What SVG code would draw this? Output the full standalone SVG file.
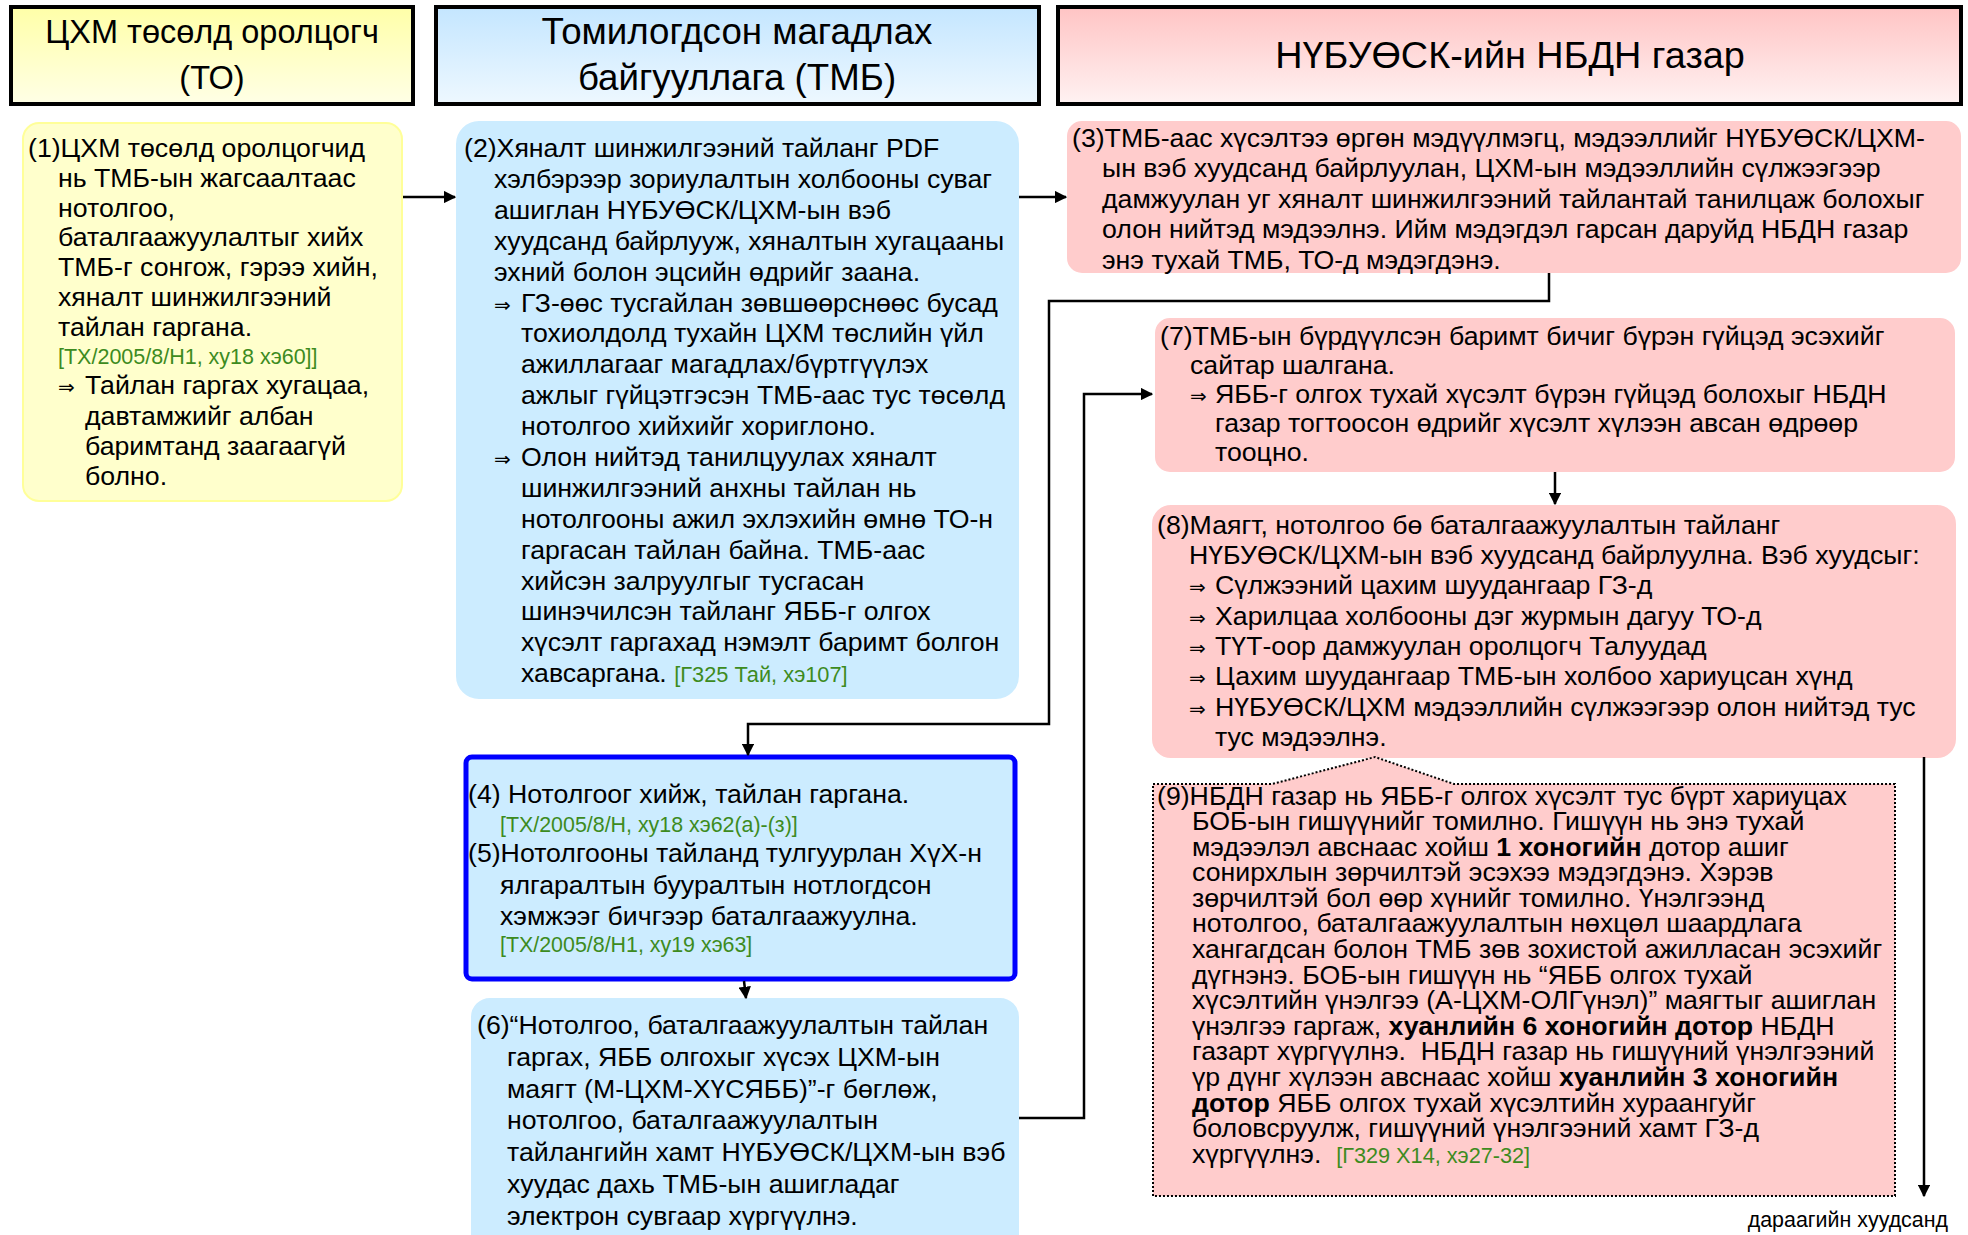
<svg xmlns="http://www.w3.org/2000/svg" width="1968" height="1235" viewBox="0 0 1968 1235">
<style>
.t{font-family:"Liberation Sans",Arial,"DejaVu Sans",sans-serif;font-size:26.7px;fill:#000}
.g{fill:#3D8B1E}
.b{font-weight:bold}
.ar{font-family:"DejaVu Sans",sans-serif;font-size:20px}
.hd{font-family:"Liberation Sans",Arial,sans-serif;fill:#000;text-anchor:middle}
.hb{stroke:#000;stroke-width:4}
.yel{fill:#FFFFCC;stroke:#FFFF99;stroke-width:2}
.blu{fill:#CCECFF;stroke:#CCECFF;stroke-width:2}
.pnk{fill:#FFCCCC;stroke:#FFCCCC;stroke-width:2}
.c{fill:none;stroke:#000;stroke-width:2.5}
</style>
<defs>
<linearGradient id="gy" x1="0" y1="0" x2="0" y2="1"><stop offset="0" stop-color="#FFFFA8"/><stop offset="1" stop-color="#FFFFE6"/></linearGradient>
<linearGradient id="gb" x1="0" y1="0" x2="0" y2="1"><stop offset="0" stop-color="#C4E6FF"/><stop offset="1" stop-color="#EEF8FF"/></linearGradient>
<linearGradient id="gp" x1="0" y1="0" x2="0" y2="1"><stop offset="0" stop-color="#FFC4C4"/><stop offset="1" stop-color="#FFF2F2"/></linearGradient>
<marker id="ar" viewBox="0 0 10 10" refX="9" refY="5" markerWidth="5" markerHeight="5" orient="auto" markerUnits="strokeWidth"><path d="M0,0 L10,5 L0,10 z" fill="#000"/></marker>
</defs>
<rect width="1968" height="1235" fill="#fff"/>

<g id="hdr-to">
<rect class="hb" x="11" y="7" width="402" height="97" fill="url(#gy)"/>
<text class="hd" font-size="32.5" x="212" y="43">ЦХМ төсөлд оролцогч</text>
<text class="hd" font-size="32.5" x="212" y="89">(ТО)</text>
</g>
<g id="hdr-tmb">
<rect class="hb" x="436" y="7" width="603" height="97" fill="url(#gb)"/>
<text class="hd" font-size="36.7" x="737" y="44">Томилогдсон магадлах</text>
<text class="hd" font-size="36.7" x="737" y="90">байгууллага (ТМБ)</text>
</g>
<g id="hdr-nbdn">
<rect class="hb" x="1058" y="7" width="903" height="97" fill="url(#gp)"/>
<text class="hd" font-size="37.8" x="1510" y="68">НҮБУӨСК-ийн НБДН газар</text>
</g>

<g id="n1">
<rect class="yel" x="23" y="123" width="379" height="378" rx="16"/>
<text class="t" font-size="26.6"><tspan x="28" y="157">(1)ЦХМ төсөлд оролцогчид</tspan><tspan x="58" y="187">нь ТМБ-ын жагсаалтаас</tspan><tspan x="58" y="217">нотолгоо,</tspan><tspan x="58" y="246">баталгаажуулалтыг хийх</tspan><tspan x="58" y="276">ТМБ-г сонгож, гэрээ хийн,</tspan><tspan x="58" y="306">хяналт шинжилгээний</tspan><tspan x="58" y="336">тайлан гаргана.</tspan><tspan x="58" y="364" class="g" font-size="21.5">[ТХ/2005/8/Н1, ху18 хэ60]]</tspan><tspan x="58" y="394" class="ar">⇒</tspan><tspan x="85" y="394">Тайлан гаргах хугацаа,</tspan><tspan x="85" y="425">давтамжийг албан</tspan><tspan x="85" y="455">баримтанд заагаагүй</tspan><tspan x="85" y="485">болно.</tspan></text>
</g>

<g id="n2">
<rect class="blu" x="457" y="122" width="561" height="576" rx="22"/>
<text class="t"><tspan x="464" y="157">(2)Хяналт шинжилгээний тайланг PDF</tspan><tspan x="494" y="188">хэлбэрээр зориулалтын холбооны суваг</tspan><tspan x="494" y="219">ашиглан НҮБУӨСК/ЦХМ-ын вэб</tspan><tspan x="494" y="250">хуудсанд байрлууж, хяналтын хугацааны</tspan><tspan x="494" y="281">эхний болон эцсийн өдрийг заана.</tspan><tspan x="494" y="312" class="ar">⇒</tspan><tspan x="521" y="312">ГЗ-өөс тусгайлан зөвшөөрснөөс бусад</tspan><tspan x="521" y="342">тохиолдолд тухайн ЦХМ төслийн үйл</tspan><tspan x="521" y="373">ажиллагааг магадлах/бүртгүүлэх</tspan><tspan x="521" y="404">ажлыг гүйцэтгэсэн ТМБ-аас тус төсөлд</tspan><tspan x="521" y="435">нотолгоо хийхийг хориглоно.</tspan><tspan x="494" y="466" class="ar">⇒</tspan><tspan x="521" y="466">Олон нийтэд танилцуулах хяналт</tspan><tspan x="521" y="497">шинжилгээний анхны тайлан нь</tspan><tspan x="521" y="528">нотолгооны ажил эхлэхийн өмнө ТО-н</tspan><tspan x="521" y="559">гаргасан тайлан байна. ТМБ-аас</tspan><tspan x="521" y="590">хийсэн залруулгыг тусгасан</tspan><tspan x="521" y="620">шинэчилсэн тайланг ЯББ-г олгох</tspan><tspan x="521" y="651">хүсэлт гаргахад нэмэлт баримт болгон</tspan><tspan x="521" y="682">хавсаргана. </tspan><tspan class="g" font-size="21.8">[Г325 Тай, хэ107]</tspan></text>
</g>

<g id="n3">
<rect class="pnk" x="1068" y="122" width="892" height="150" rx="14"/>
<text class="t" font-size="26.8"><tspan x="1072" y="147">(3)ТМБ-аас хүсэлтээ өргөн мэдүүлмэгц, мэдээллийг НҮБУӨСК/ЦХМ-</tspan><tspan x="1102" y="177">ын вэб хуудсанд байрлуулан, ЦХМ-ын мэдээллийн сүлжээгээр</tspan><tspan x="1102" y="208">дамжуулан уг хяналт шинжилгээний тайлантай танилцаж болохыг</tspan><tspan x="1102" y="238">олон нийтэд мэдээлнэ. Ийм мэдэгдэл гарсан даруйд НБДН газар</tspan><tspan x="1102" y="269">энэ тухай ТМБ, ТО-д мэдэгдэнэ.</tspan></text>
</g>

<g id="n7">
<rect class="pnk" x="1156" y="319" width="798" height="152" rx="14"/>
<text class="t" font-size="26.3"><tspan x="1160" y="345">(7)ТМБ-ын бүрдүүлсэн баримт бичиг бүрэн гүйцэд эсэхийг</tspan><tspan x="1190" y="374">сайтар шалгана.</tspan><tspan x="1190" y="403" class="ar" font-size="19">⇒</tspan><tspan x="1215" y="403">ЯББ-г олгох тухай хүсэлт бүрэн гүйцэд болохыг НБДН</tspan><tspan x="1215" y="432">газар тогтоосон өдрийг хүсэлт хүлээн авсан өдрөөр</tspan><tspan x="1215" y="461">тооцно.</tspan></text>
</g>

<g id="n8">
<rect class="pnk" x="1153" y="506" width="802" height="251" rx="18"/>
<text class="t" font-size="26"><tspan x="1157" y="534">(8)Маягт, нотолгоо бө баталгаажуулалтын тайланг</tspan><tspan x="1189" y="564">НҮБУӨСК/ЦХМ-ын вэб хуудсанд байрлуулна. Вэб хуудсыг:</tspan><tspan x="1189" y="594" class="ar" font-size="19">⇒</tspan><tspan x="1215" y="594">Сүлжээний цахим шуудангаар ГЗ-д</tspan><tspan x="1189" y="625" class="ar" font-size="19">⇒</tspan><tspan x="1215" y="625">Харилцаа холбооны дэг журмын дагуу ТО-д</tspan><tspan x="1189" y="655" class="ar" font-size="19">⇒</tspan><tspan x="1215" y="655">ТҮТ-оор дамжуулан оролцогч Талуудад</tspan><tspan x="1189" y="685" class="ar" font-size="19">⇒</tspan><tspan x="1215" y="685">Цахим шуудангаар ТМБ-ын холбоо хариуцсан хүнд</tspan><tspan x="1189" y="716" class="ar" font-size="19">⇒</tspan><tspan x="1215" y="716">НҮБУӨСК/ЦХМ мэдээллийн сүлжээгээр олон нийтэд тус</tspan><tspan x="1215" y="746">тус мэдээлнэ.</tspan></text>
</g>

<g id="n9">
<path d="M1153,784 L1272,784 L1375,757 L1454,784 L1895,784 L1895,1196 L1153,1196 Z" fill="#FFCCCC" stroke="#000" stroke-width="2" stroke-dasharray="2,2"/>
<text class="t" font-size="23.7"><tspan x="1157" y="805">(9)НБДН газар нь ЯББ-г олгох хүсэлт тус бүрт хариуцах</tspan><tspan x="1192" y="830">БОБ-ын гишүүнийг томилно. Гишүүн нь энэ тухай</tspan><tspan x="1192" y="856">мэдээлэл авснаас хойш <tspan class="b">1 хоногийн</tspan> дотор ашиг</tspan><tspan x="1192" y="881">сонирхлын зөрчилтэй эсэхээ мэдэгдэнэ. Хэрэв</tspan><tspan x="1192" y="907">зөрчилтэй бол өөр хүнийг томилно. Үнэлгээнд</tspan><tspan x="1192" y="932">нотолгоо, баталгаажуулалтын нөхцөл шаардлага</tspan><tspan x="1192" y="958">хангагдсан болон ТМБ зөв зохистой ажилласан эсэхийг</tspan><tspan x="1192" y="984">дүгнэнэ. БОБ-ын гишүүн нь “ЯББ олгох тухай</tspan><tspan x="1192" y="1009">хүсэлтийн үнэлгээ (А-ЦХМ-ОЛГүнэл)” маягтыг ашиглан</tspan><tspan x="1192" y="1035">үнэлгээ гаргаж, <tspan class="b">хуанлийн 6 хоногийн дотор</tspan> НБДН</tspan><tspan x="1192" y="1060">газарт хүргүүлнэ.&#160; НБДН газар нь гишүүний үнэлгээний</tspan><tspan x="1192" y="1086">үр дүнг хүлээн авснаас хойш <tspan class="b">хуанлийн 3 хоногийн</tspan></tspan><tspan x="1192" y="1112"><tspan class="b">дотор</tspan> ЯББ олгох тухай хүсэлтийн хураангуйг</tspan><tspan x="1192" y="1137">боловсруулж, гишүүний үнэлгээний хамт ГЗ-д</tspan><tspan x="1192" y="1163">хүргүүлнэ.&#160; <tspan class="g" font-size="21.7">[Г329 Х14, хэ27-32]</tspan></tspan></text>
</g>

<g id="n45">
<rect x="466" y="757" width="549" height="222" rx="6" fill="#CCECFF" stroke="#0000FF" stroke-width="5"/>
<text class="t" font-size="26.9"><tspan x="468" y="803">(4) Нотолгоог хийж, тайлан гаргана.</tspan><tspan x="500" y="832" class="g" font-size="21.4">[ТХ/2005/8/Н, ху18 хэ62(а)-(з)]</tspan><tspan x="468" y="862">(5)Нотолгооны тайланд тулгуурлан ХүХ-н</tspan><tspan x="500" y="894">ялгаралтын бууралтын нотлогдсон</tspan><tspan x="500" y="925">хэмжээг бичгээр баталгаажуулна.</tspan><tspan x="500" y="952" class="g" font-size="21.4">[ТХ/2005/8/Н1, ху19 хэ63]</tspan></text>
</g>

<g id="n6">
<rect class="blu" x="472" y="999" width="546" height="260" rx="18"/>
<text class="t" font-size="27.9"><tspan x="477" y="1034">(6)“Нотолгоо, баталгаажуулалтын тайлан</tspan><tspan x="507" y="1066">гаргах, ЯББ олгохыг хүсэх ЦХМ-ын</tspan><tspan x="507" y="1098">маягт (М-ЦХМ-ХҮСЯББ)”-г бөглөж,</tspan><tspan x="507" y="1129">нотолгоо, баталгаажуулалтын</tspan><tspan x="507" y="1161">тайлангийн хамт НҮБУӨСК/ЦХМ-ын вэб</tspan><tspan x="507" y="1193">хуудас дахь ТМБ-ын ашигладаг</tspan><tspan x="507" y="1225">электрон сувгаар хүргүүлнэ.</tspan></text>
</g>

<g id="connectors">
<path class="c" d="M403,197 H455" marker-end="url(#ar)"/>
<path class="c" d="M1019,197 H1066" marker-end="url(#ar)"/>
<path class="c" d="M1549,273 V301 H1049 V724 H748 V755" marker-end="url(#ar)"/>
<path class="c" d="M744,981 L746,998" marker-end="url(#ar)"/>
<path class="c" d="M1019,1118 H1084 V394 H1152" marker-end="url(#ar)"/>
<path class="c" d="M1555,472 V504" marker-end="url(#ar)"/>
<path class="c" d="M1924,757 V1196" marker-end="url(#ar)"/>
</g>
<text id="next" x="1948" y="1227" font-family="Liberation Sans, Arial, sans-serif" font-size="21.4" text-anchor="end">дараагийн хуудсанд</text>
</svg>
